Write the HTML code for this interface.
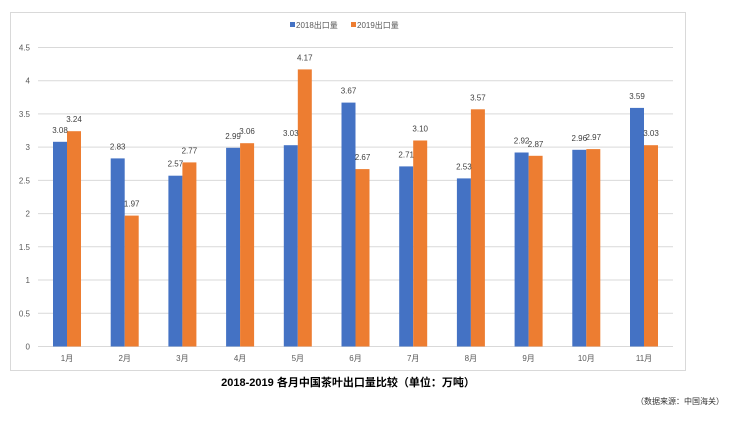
<!DOCTYPE html><html><head><meta charset="utf-8"><style>body{margin:0;background:#fff;width:729px;height:423px;overflow:hidden}</style></head><body>
<svg width="729" height="423" xmlns="http://www.w3.org/2000/svg" font-family="Liberation Sans, Noto Sans CJK SC, sans-serif">
<rect x="10.5" y="12.5" width="675" height="358" fill="#fff" stroke="#d9d9d9"/>
<g stroke="#d9d9d9" stroke-width="1">
<line x1="38" x2="673" y1="346.5" y2="346.5"/><line x1="38" x2="673" y1="313.3" y2="313.3"/><line x1="38" x2="673" y1="280" y2="280"/><line x1="38" x2="673" y1="246.8" y2="246.8"/><line x1="38" x2="673" y1="213.6" y2="213.6"/><line x1="38" x2="673" y1="180.4" y2="180.4"/><line x1="38" x2="673" y1="147.1" y2="147.1"/><line x1="38" x2="673" y1="113.9" y2="113.9"/><line x1="38" x2="673" y1="80.7" y2="80.7"/><line x1="38" x2="673" y1="47.5" y2="47.5"/>
</g>
<g font-size="8" fill="#595959" text-anchor="end">
<text x="30" y="349.5">0</text><text x="30" y="316.3">0.5</text><text x="30" y="283">1</text><text x="30" y="249.8">1.5</text><text x="30" y="216.6">2</text><text x="30" y="183.4">2.5</text><text x="30" y="150.1">3</text><text x="30" y="116.9">3.5</text><text x="30" y="83.7">4</text><text x="30" y="50.5">4.5</text>
</g>
<rect x="290" y="22" width="5" height="5" fill="#4472c4"/><text x="296" y="28" font-size="8" fill="#595959">2018出口量</text>
<rect x="351" y="22" width="5" height="5" fill="#ed7d31"/><text x="357" y="28" font-size="8" fill="#595959">2019出口量</text>
<g fill="#4472c4">
<rect x="53" y="141.8" width="14" height="204.7"/>
<rect x="110.7" y="158.4" width="14" height="188.1"/>
<rect x="168.4" y="175.7" width="14" height="170.8"/>
<rect x="226.1" y="147.8" width="14" height="198.7"/>
<rect x="283.8" y="145.2" width="14" height="201.3"/>
<rect x="341.5" y="102.6" width="14" height="243.9"/>
<rect x="399.2" y="166.4" width="14" height="180.1"/>
<rect x="456.9" y="178.4" width="14" height="168.1"/>
<rect x="514.6" y="152.5" width="14" height="194"/>
<rect x="572.3" y="149.8" width="14" height="196.7"/>
<rect x="630" y="107.9" width="14" height="238.6"/>
</g>
<g fill="#ed7d31">
<rect x="67" y="131.2" width="14" height="215.3"/>
<rect x="124.7" y="215.6" width="14" height="130.9"/>
<rect x="182.4" y="162.4" width="14" height="184.1"/>
<rect x="240.1" y="143.2" width="14" height="203.3"/>
<rect x="297.8" y="69.4" width="14" height="277.1"/>
<rect x="355.5" y="169.1" width="14" height="177.4"/>
<rect x="413.2" y="140.5" width="14" height="206"/>
<rect x="470.9" y="109.3" width="14" height="237.2"/>
<rect x="528.6" y="155.8" width="14" height="190.7"/>
<rect x="586.3" y="149.1" width="14" height="197.4"/>
<rect x="644" y="145.2" width="14" height="201.3"/>
</g>
<g font-size="8" fill="#404040" text-anchor="middle">
<text x="60" y="132.8">3.08</text><text x="74" y="122.2">3.24</text>
<text x="117.7" y="149.4">2.83</text><text x="131.7" y="206.6">1.97</text>
<text x="175.4" y="166.7">2.57</text><text x="189.4" y="153.4">2.77</text>
<text x="233.1" y="138.8">2.99</text><text x="247.1" y="134.2">3.06</text>
<text x="290.8" y="136.2">3.03</text><text x="304.8" y="60.4">4.17</text>
<text x="348.5" y="93.6">3.67</text><text x="362.5" y="160.1">2.67</text>
<text x="406.2" y="157.4">2.71</text><text x="420.2" y="131.5">3.10</text>
<text x="463.9" y="169.4">2.53</text><text x="477.9" y="100.3">3.57</text>
<text x="521.6" y="143.5">2.92</text><text x="535.6" y="146.8">2.87</text>
<text x="579.3" y="140.8">2.96</text><text x="593.3" y="140.1">2.97</text>
<text x="637" y="98.9">3.59</text><text x="651" y="136.2">3.03</text>
</g>
<g font-size="8" fill="#595959" text-anchor="middle">
<text x="67" y="361">1月</text><text x="124.7" y="361">2月</text><text x="182.4" y="361">3月</text><text x="240.1" y="361">4月</text><text x="297.8" y="361">5月</text><text x="355.5" y="361">6月</text><text x="413.2" y="361">7月</text><text x="470.9" y="361">8月</text><text x="528.6" y="361">9月</text><text x="586.3" y="361">10月</text><text x="644" y="361">11月</text>
</g>
<text x="348" y="386" font-size="11" font-weight="bold" text-anchor="middle" fill="#000">2018-2019 各月中国茶叶出口量比较（单位：万吨）</text>
<text x="724" y="404" font-size="8" text-anchor="end" fill="#333">（数据来源：中国海关）</text>
</svg></body></html>
